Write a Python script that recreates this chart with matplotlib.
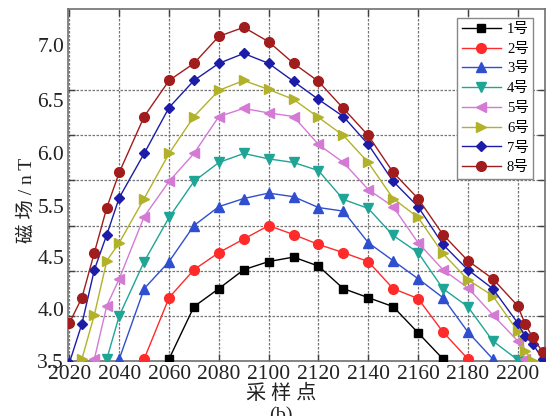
import matplotlib
matplotlib.use("Agg")
import matplotlib.pyplot as plt

# ---- data ----
x1 = [2060, 2070, 2080, 2090, 2100, 2110, 2120, 2130, 2140, 2150, 2160, 2170]
y1 = [3.52, 4.10, 4.30, 4.51, 4.60, 4.65, 4.55, 4.30, 4.20, 4.10, 3.81, 3.52]

x2 = [2050, 2060, 2070, 2080, 2090, 2100, 2110, 2120, 2130, 2140, 2150, 2160, 2170, 2180]
y2 = [3.52, 4.20, 4.51, 4.70, 4.85, 5.00, 4.90, 4.79, 4.70, 4.60, 4.30, 4.19, 3.82, 3.52]

x3 = [2040, 2050, 2060, 2070, 2080, 2090, 2100, 2110, 2120, 2130, 2140, 2150, 2160, 2170, 2180, 2190]
y3 = [3.52, 4.30, 4.60, 5.00, 5.21, 5.30, 5.36, 5.32, 5.20, 5.16, 4.81, 4.61, 4.41, 4.20, 3.82, 3.52]

x4 = [2035, 2040, 2050, 2060, 2070, 2080, 2090, 2100, 2110, 2120, 2130, 2140, 2150, 2160, 2170, 2180, 2190, 2200]
y4 = [3.52, 4.00, 4.60, 5.09, 5.49, 5.70, 5.80, 5.74, 5.70, 5.61, 5.29, 5.19, 4.89, 4.70, 4.30, 4.10, 3.72, 3.51]

x5 = [2030, 2035, 2040, 2050, 2060, 2070, 2080, 2090, 2100, 2110, 2120, 2130, 2140, 2150, 2160, 2170, 2180, 2190, 2200, 2203]
y5 = [3.52, 4.11, 4.41, 5.10, 5.49, 5.80, 6.21, 6.30, 6.25, 6.21, 5.90, 5.70, 5.40, 5.21, 4.81, 4.51, 4.31, 4.01, 3.72, 3.52]

x6 = [2025, 2030, 2035, 2040, 2050, 2060, 2070, 2080, 2090, 2100, 2110, 2120, 2130, 2140, 2150, 2160, 2170, 2180, 2190, 2200, 2203, 2206]
y6 = [3.52, 4.01, 4.61, 4.81, 5.30, 5.80, 6.21, 6.50, 6.61, 6.51, 6.40, 6.20, 6.00, 5.70, 5.30, 5.09, 4.69, 4.40, 4.22, 3.83, 3.61, 3.50]

x7 = [2020, 2025, 2030, 2035, 2040, 2050, 2060, 2070, 2080, 2090, 2100, 2110, 2120, 2130, 2140, 2150, 2160, 2170, 2180, 2190, 2200, 2203, 2206, 2210]
y7 = [3.48, 3.91, 4.51, 4.90, 5.31, 5.80, 6.31, 6.61, 6.80, 6.91, 6.80, 6.60, 6.40, 6.21, 5.90, 5.49, 5.21, 4.79, 4.51, 4.30, 3.92, 3.77, 3.69, 3.52]

x8 = [2020, 2025, 2030, 2035, 2040, 2050, 2060, 2070, 2080, 2090, 2100, 2110, 2120, 2130, 2140, 2150, 2160, 2170, 2180, 2190, 2200, 2203, 2206, 2210]
y8 = [3.92, 4.20, 4.70, 5.20, 5.59, 6.21, 6.61, 6.80, 7.10, 7.20, 7.04, 6.80, 6.60, 6.30, 6.00, 5.59, 5.30, 4.90, 4.61, 4.41, 4.11, 3.91, 3.76, 3.60]

labels = ["1号", "2号", "3号", "4号", "5号", "6号", "7号", "8号"]
xticks = [2020, 2040, 2060, 2080, 2100, 2120, 2140, 2160, 2180, 2200]
ygrid = [3.5, 4.0, 4.5, 5.0, 5.5, 6.0, 6.5, 7.0]
# the reference's y tick texts (5.0 is absent, texts evenly spread from 3.5 to 7.0)
ytick_text = ["3.5", "4.0", "4.5", "5.5", "6.0", "6.5", "7.0"]
ytick_text_pos = [3.5, 4.07, 4.65, 5.22, 5.80, 6.39, 7.0]

# ---- styles ----
colors = ["#000000", "#ff2a2a", "#2f4fd0", "#1fa595", "#d47ad4", "#b2b22a", "#1c1ca8", "#a11c1c"]
markers = ["s", "o", "^", "v", "<", ">", "D", "o"]
msizes = [5.5, 7, 7, 7, 7, 7, 5.5, 7]

fam = ["Liberation Serif", "Noto Sans CJK SC"]
plt.rcParams["font.family"] = fam

W, H = 549, 416
fig = plt.figure(figsize=(W / 100, H / 100), dpi=100)
L, R, T, B = 67.5, 545, 9.3, 360.7
ax = fig.add_axes([L / W, 1 - B / H, (R - L) / W, (B - T) / H])

xs = [x1, x2, x3, x4, x5, x6, x7, x8]
ys = [y1, y2, y3, y4, y5, y6, y7, y8]
for x, y, c, m, ms, lab in zip(xs, ys, colors, markers, msizes, labels):
    ax.plot(x, y, color=c, marker=m, markersize=ms, linewidth=1.0,
            markeredgecolor=c, label=lab, zorder=3)

ax.set_xlim(2019.2, 2211)
ax.set_ylim(3.5, 7.4)
ax.set_xticks(xticks)
ax.set_yticks(ytick_text_pos)
ax.set_yticklabels(ytick_text)
ax.set_yticks(ygrid, minor=True)

gstyle = dict(color="#666666", linestyle=(0, (2, 1.2)), linewidth=0.9, alpha=0.9)
ax.xaxis.grid(True, which="major", **gstyle)
ax.yaxis.grid(True, which="minor", **gstyle)

ax.tick_params(axis="x", which="major", direction="in", length=5, width=1,
               colors="#404040", labelcolor="#222222", labelsize=15.5,
               top=True, pad=3)
ax.tick_params(axis="y", which="major", length=0, labelcolor="#222222",
               labelsize=15.5, pad=2.5)
ax.tick_params(axis="y", which="minor", direction="in", length=5, width=1,
               colors="#404040", left=True, right=True)
for s in ax.spines.values():
    s.set_color("#707070")
    s.set_linewidth(1.2)

leg = ax.legend(loc="upper right", bbox_to_anchor=(533.3 / W, 1 - 18.3 / H),
                bbox_transform=fig.transFigure, borderaxespad=0,
                fontsize=10.5, frameon=True, fancybox=False, framealpha=1,
                edgecolor="#888888", borderpad=0.3, handlelength=2.7,
                handletextpad=0.4, labelspacing=0.45)
leg.get_frame().set_linewidth(1.0)

fig.text(27 / W, 1 - 200 / H, "磁 场 / n T", rotation=90, ha="center", va="center",
         fontsize=14, family=fam, color="#222222")
fig.text(281 / W, 1 - 394 / H, "采 样 点", ha="center", va="center",
         fontsize=14.5, family=fam, color="#222222")
fig.text(281 / W, 1 - 407 / H, "(b)", ha="center", va="top",
         fontsize=14.5, family=fam, color="#222222")

fig.savefig("out.png", dpi=100)
